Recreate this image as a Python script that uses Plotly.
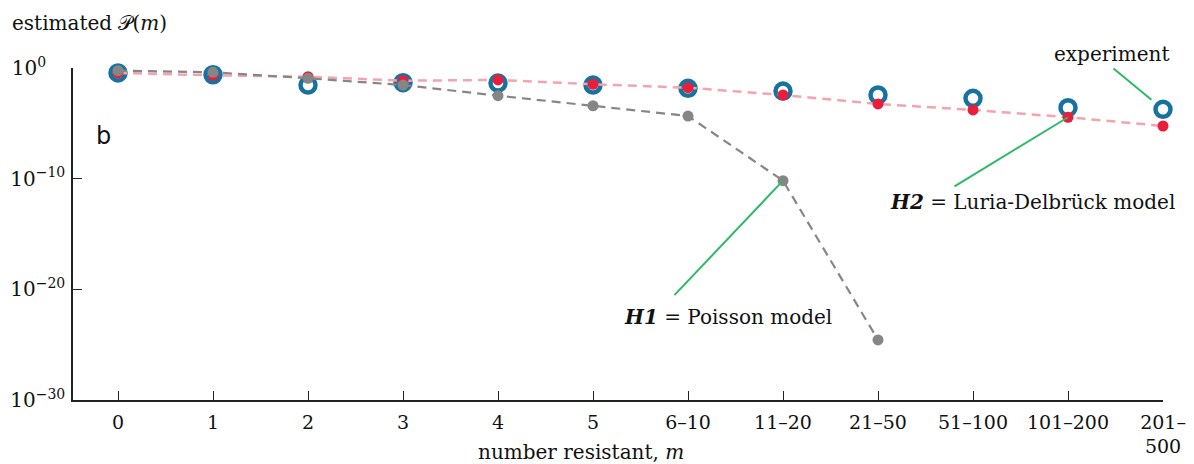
import plotly.graph_objects as go

# Categories of the number of resistant colonies
categories = ["0", "1", "2", "3", "4", "5", "6–10", "11–20", "21–50",
              "51–100", "101–200", "201–<br>500"]

# log10 of estimated probability P(m)
log_experiment = [-0.45, -0.61, -1.54, -1.33, -1.36, -1.54, -1.84, -2.08,
                  -2.44, -2.74, -3.59, -3.73]
log_luria_delbruck = [-0.45, -0.66, -0.79, -1.15, -1.08, -1.47, -1.78, -2.44,
                      -3.25, -3.79, -4.45, -5.24]
log_poisson = [-0.24, -0.39, -0.93, -1.54, -2.50, -3.41, -4.34, -10.18,
               -24.57]

ytick_exponents = [0, -10, -20, -30]

x_all = list(range(len(categories)))
x_poisson = x_all[:len(log_poisson)]

exp_vals = [10.0 ** v for v in log_experiment]
ld_vals = [10.0 ** v for v in log_luria_delbruck]
poi_vals = [10.0 ** v for v in log_poisson]

BLUE = "#16739f"
RED = "#e81e3c"
PINK = "#f5a3ad"
GREY = "#868686"
GREEN = "#2cba68"
INK = "#111111"
SERIF = "DejaVu Serif, serif"
NBSP = "\u00a0"


def power_label(e):
    sup = str(e).replace("-", "−")
    pad = NBSP * 3 if e == 0 else ""
    return "10<sup>%s</sup>%s" % (sup, pad)


fig = go.Figure()

fig.add_trace(go.Scatter(
    x=x_all, y=exp_vals, mode="markers", name="experiment",
    marker=dict(symbol="circle-open", size=15, color=BLUE,
                line=dict(width=4.5, color=BLUE)),
    cliponaxis=False,
))
fig.add_trace(go.Scatter(
    x=x_all, y=ld_vals, mode="lines+markers", name="H2",
    line=dict(color=PINK, width=2.5, dash="9px,6px"),
    marker=dict(size=11, color=RED),
    cliponaxis=False,
))
fig.add_trace(go.Scatter(
    x=x_poisson, y=poi_vals, mode="lines+markers", name="H1",
    line=dict(color=GREY, width=2.2, dash="9px,6px"),
    marker=dict(size=11, color=GREY),
    cliponaxis=False,
))

annotations = []

# Leader lines from labels to the marks they describe
annotations.append(dict(x=x_all[-1], y=log_experiment[-1], xref="x", yref="y",
                        text="", showarrow=True, arrowhead=0, arrowwidth=2,
                        arrowcolor=GREEN, ax=-51, ay=-42, standoff=15))
annotations.append(dict(x=x_all[-2], y=log_luria_delbruck[-2], xref="x", yref="y",
                        text="", showarrow=True, arrowhead=0, arrowwidth=2,
                        arrowcolor=GREEN, ax=-115, ay=70, standoff=0))
annotations.append(dict(x=x_poisson[-2], y=log_poisson[-2], xref="x", yref="y",
                        text="", showarrow=True, arrowhead=0, arrowwidth=2,
                        arrowcolor=GREEN, ax=-110, ay=116, standoff=0))

# Text labels
annotations.append(dict(x=0.9523, y=1.042, xref="paper", yref="paper",
                        xanchor="center", yanchor="middle",
                        text="experiment", showarrow=False,
                        font=dict(family=SERIF, size=20, color=INK)))
annotations.append(dict(x=9.63, y=-12.11, xref="x", yref="y",
                        xanchor="center", yanchor="middle",
                        text="<b><i>H2</i></b> = Luria-Delbrück model",
                        showarrow=False, font=dict(family=SERIF, size=20, color=INK)))
annotations.append(dict(x=6.42, y=-22.5, xref="x", yref="y",
                        xanchor="center", yanchor="middle",
                        text="<b><i>H1</i></b> = Poisson model",
                        showarrow=False, font=dict(family=SERIF, size=20, color=INK)))
annotations.append(dict(x=-0.153, y=-6.14, xref="x", yref="y", text="b",
                        xanchor="center", yanchor="middle",
                        showarrow=False,
                        font=dict(family="DejaVu Sans, sans-serif", size=24, color=INK)))
annotations.append(dict(x=-0.0578, y=1.1355, xref="paper", yref="paper",
                        xanchor="left", yanchor="middle",
                        text="estimated 𝒫(<i>m</i>)", showarrow=False,
                        font=dict(family=SERIF, size=20, color=INK)))
annotations.append(dict(x=4.87, y=-0.157, xref="x", yref="paper",
                        xanchor="center", yanchor="middle",
                        text="number resistant, <i>m</i>", showarrow=False,
                        font=dict(family=SERIF, size=20, color=INK)))

fig.update_layout(
    width=1194, height=464,
    margin=dict(l=73, r=31, t=68, b=64),
    paper_bgcolor="white", plot_bgcolor="white",
    showlegend=False,
    font=dict(family=SERIF, size=20, color=INK),
    annotations=annotations,
    xaxis=dict(
        range=[-0.4737, 11], tickmode="array", tickvals=x_all, ticktext=categories,
        showgrid=False, zeroline=False, showline=True, linecolor="#222",
        linewidth=1.5, ticks="inside", ticklen=9, tickwidth=1.3, tickcolor="#222",
        ticklabelstandoff=4, automargin=False,
        tickfont=dict(family=SERIF, size=19, color=INK),
    ),
    yaxis=dict(
        type="log", range=[-30, 0],
        tickmode="array",
        tickvals=[10.0 ** e for e in ytick_exponents],
        ticktext=[power_label(e) for e in ytick_exponents],
        showgrid=False, zeroline=False, showline=True, linecolor="#222",
        linewidth=1.5, ticks="inside", ticklen=9, tickwidth=1.3, tickcolor="#222",
        ticklabelstandoff=2, automargin=False,
        tickfont=dict(family=SERIF, size=20, color=INK),
    ),
)

fig.write_html("out.html")
